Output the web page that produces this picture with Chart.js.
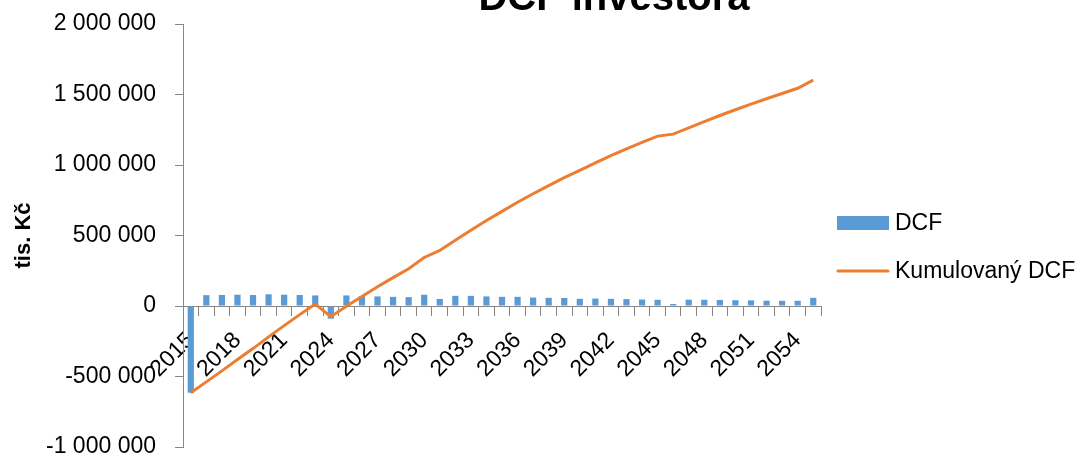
<!DOCTYPE html>
<html lang="cs">
<head>
<meta charset="utf-8">
<title>DCF investora</title>
<script src="https://cdn.jsdelivr.net/npm/chart.js@4.4.1/dist/chart.umd.min.js"></script>
<style>
    html, body { margin: 0; padding: 0; background: #fff; }
    #wrap { position: relative; width: 1078px; height: 458px; }
</style>
</head>
<body>
<div id="wrap"><canvas id="dcfChart"></canvas></div>
<script>
// Data (tis. Kč)
const chartTitle = 'DCF investora';
const axisTitle = 'tis. Kč';

const years = [
    2015, 2016, 2017, 2018, 2019, 2020, 2021, 2022, 2023, 2024,
    2025, 2026, 2027, 2028, 2029, 2030, 2031, 2032, 2033, 2034,
    2035, 2036, 2037, 2038, 2039, 2040, 2041, 2042, 2043, 2044,
    2045, 2046, 2047, 2048, 2049, 2050, 2051, 2052, 2053, 2054,
    2055
];

const dcf = [
    -615000, 77000, 78000, 80000, 78000, 83000, 80000, 78000, 75000, -90000,
    75000, 69000, 68000, 65000, 63000, 80000, 50000, 72000, 72000, 68000,
    65000, 65000, 60000, 58000, 57000, 51000, 53000, 51000, 49000, 46000,
    44000, 14000, 45000, 44000, 43000, 41000, 40000, 38000, 37000, 37000,
    58000
];

const kumulovanyDcf = [
    -615000, -538000, -460000, -380000, -302000, -219000, -139000, -61000, 14000, -76000,
    -1000, 68000, 136000, 201000, 264000, 344000, 394000, 466000, 538000, 606000,
    671000, 736000, 796000, 854000, 911000, 962000, 1015000, 1066000, 1115000, 1161000,
    1205000, 1219000, 1264000, 1308000, 1351000, 1392000, 1432000, 1470000, 1507000, 1544000,
    1602000
];

const yTicks = [-1000000, -500000, 0, 500000, 1000000, 1500000, 2000000];
const labelEvery = 3;

const FONT = '"Liberation Sans", Arial, sans-serif';
const AXIS_GREY = '#868686';

Chart.defaults.font.family = FONT;
Chart.defaults.color = '#000';

// 2 000 000 style thousands
function formatThousands(v) {
    return String(v).replace(/\B(?=(\d{3})+(?!\d))/g, ' ');
}

// Title sits partly above the canvas, like in the source picture
const titlePlugin = {
    id: 'cutTitle',
    afterDraw(chart) {
        const ctx = chart.ctx;
        ctx.save();
        ctx.font = 'bold 40px ' + FONT;
        ctx.fillStyle = '#000';
        ctx.textAlign = 'center';
        ctx.textBaseline = 'alphabetic';
        ctx.fillText(chartTitle, 614, 10);
        ctx.restore();
    }
};

// Legend on the right, vertically placed next to the plot
const sideLegend = {
    id: 'sideLegend',
    afterDraw(chart) {
        const { ctx, chartArea } = chart;
        const x = chartArea.right + 16;
        const rows = [223, 271];
        ctx.save();
        ctx.font = '23px ' + FONT;
        ctx.textBaseline = 'middle';
        ctx.textAlign = 'left';
        chart.data.datasets.forEach((ds, i) => {
            const y = rows[i];
            if (ds.type === 'line') {
                ctx.strokeStyle = ds.borderColor;
                ctx.lineWidth = 3;
                ctx.lineCap = 'round';
                ctx.beginPath();
                ctx.moveTo(x + 1, y);
                ctx.lineTo(x + 51, y);
                ctx.stroke();
            } else {
                ctx.fillStyle = ds.backgroundColor;
                ctx.fillRect(x, y - 7, 52, 14);
            }
            ctx.fillStyle = '#000';
            ctx.fillText(ds.label, x + 58, y + 1);
        });
        ctx.restore();
    }
};

new Chart(document.getElementById('dcfChart'), {
    type: 'bar',
    data: {
        labels: years,
        datasets: [
            {
                type: 'bar',
                label: 'DCF',
                data: dcf,
                backgroundColor: '#5B9BD5',
                barPercentage: 0.4,
                categoryPercentage: 1,
                order: 2
            },
            {
                type: 'line',
                label: 'Kumulovaný DCF',
                data: kumulovanyDcf,
                borderColor: '#ED7D31',
                borderWidth: 3,
                pointRadius: 0,
                tension: 0,
                fill: false,
                order: 1
            }
        ]
    },
    options: {
        responsive: true,
        maintainAspectRatio: false,
        animation: false,
        layout: { padding: { left: 0, right: 257, top: 24, bottom: 11 } },
        plugins: {
            legend: { display: false },
            title: { display: false },
            tooltip: { enabled: false }
        },
        scales: {
            x: {
                position: { y: 0 },
                offset: true,
                grid: { offset: true, drawOnChartArea: false, drawTicks: true, tickLength: 9, color: AXIS_GREY },
                border: { display: true, color: AXIS_GREY, width: 1 },
                ticks: {
                    autoSkip: false,
                    minRotation: 45,
                    maxRotation: 45,
                    padding: 12,
                    font: { size: 23 },
                    color: '#000',
                    callback: (value, index) => (index % labelEvery === 0 ? String(years[index]) : '')
                },
                afterFit(scale) { scale.height = 0; }
            },
            y: {
                min: yTicks[0],
                max: yTicks[yTicks.length - 1],
                ticks: {
                    stepSize: yTicks[1] - yTicks[0],
                    padding: 19,
                    font: { size: 23, lineHeight: 1 },
                    color: '#000',
                    callback: v => formatThousands(v)
                },
                grid: { drawOnChartArea: false, tickLength: 8, color: AXIS_GREY },
                border: { display: true, color: AXIS_GREY, width: 1 },
                title: {
                    display: true,
                    text: axisTitle,
                    font: { size: 22, weight: 'bold' },
                    color: '#000',
                    padding: { top: 11, bottom: 0 }
                },
                afterFit(scale) {
                    // fixed axis width; label overflow is covered by layout padding
                    scale.width = 183;
                    scale.paddingTop = 0;
                    scale.paddingBottom = 0;
                }
            }
        }
    },
    plugins: [titlePlugin, sideLegend]
});
</script>
</body>
</html>
